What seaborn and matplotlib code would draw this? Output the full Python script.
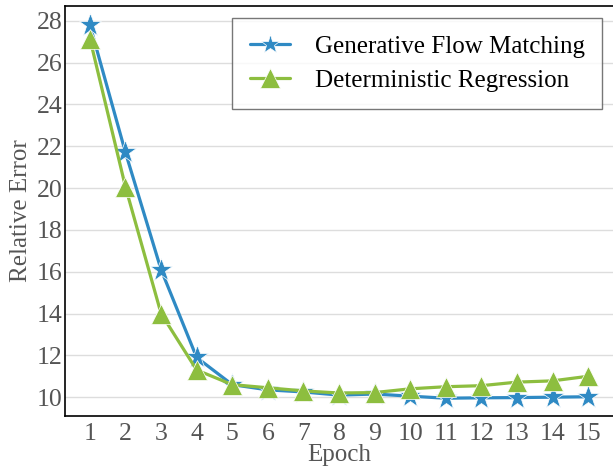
import matplotlib
matplotlib.use('Agg')
import matplotlib.pyplot as plt
import numpy as np
import pandas as pd
import seaborn as sns

epochs = list(range(1, 16))
flow_matching = [27.8, 21.7, 16.1, 11.9, 10.6, 10.35, 10.25, 10.1, 10.15,
                 10.05, 9.95, 9.97, 9.98, 10.0, 10.02]
regression = [27.15, 20.05, 14.0, 11.3, 10.6, 10.45, 10.3, 10.2, 10.22,
              10.4, 10.5, 10.55, 10.72, 10.78, 11.0]
labels = ['Generative Flow Matching', 'Deterministic Regression']

df = pd.DataFrame({'Epoch': epochs * 2,
                   'Relative Error': flow_matching + regression,
                   'Method': [labels[0]] * 15 + [labels[1]] * 15})

sns.set_style('whitegrid')
plt.rcParams['font.family'] = ['Liberation Serif', 'DejaVu Serif']

fig = plt.figure(figsize=(6.13, 4.69), dpi=100)
ax = fig.add_axes([0.106, 0.113, 0.894, 0.874])

palette = {labels[0]: '#2F8AC4', labels[1]: '#8DBE3F'}
markers = {labels[0]: '*', labels[1]: '^'}
sns.lineplot(data=df, x='Epoch', y='Relative Error', hue='Method',
             style='Method', markers=markers, dashes=False, palette=palette,
             linewidth=2.3, markersize=14, markeredgewidth=0.5, ax=ax)
# bigger star
ax.lines[0].set_markersize(17)

# configure axes
ax.set_xlim(0.3, 15.7)
ax.set_ylim(9.1, 28.7)
ax.set_xticks(epochs)
ax.set_yticks(np.arange(10, 29, 2))
ax.set_xlabel('Epoch', fontsize=18, color='#555555', labelpad=-1)
ax.set_ylabel('Relative Error', fontsize=18, color='#555555', labelpad=3)
ax.tick_params(axis='both', labelsize=18.5, colors='#555555')
ax.tick_params(axis='x', direction='in', length=4, color='#999999', pad=5)
ax.tick_params(axis='y', length=0, pad=2)
ax.grid(axis='x', visible=False)
ax.grid(axis='y', color='#dddddd', linewidth=1)

# spines
for s in ['left', 'bottom', 'top']:
    ax.spines[s].set_linewidth(1.2)
    ax.spines[s].set_color('black')
ax.spines['right'].set_visible(False)

# legend
leg = ax.legend(loc='upper right', fontsize=18, frameon=True, fancybox=False,
                edgecolor='#555555', borderpad=0.7, handlelength=1.6,
                handletextpad=1.0, labelspacing=0.45, borderaxespad=0,
                bbox_to_anchor=(0.98, 0.971))
leg.get_frame().set_linewidth(1.0)
for t in leg.get_texts():
    t.set_color('black')

plt.savefig('out.png', dpi=100)
plt.close()
